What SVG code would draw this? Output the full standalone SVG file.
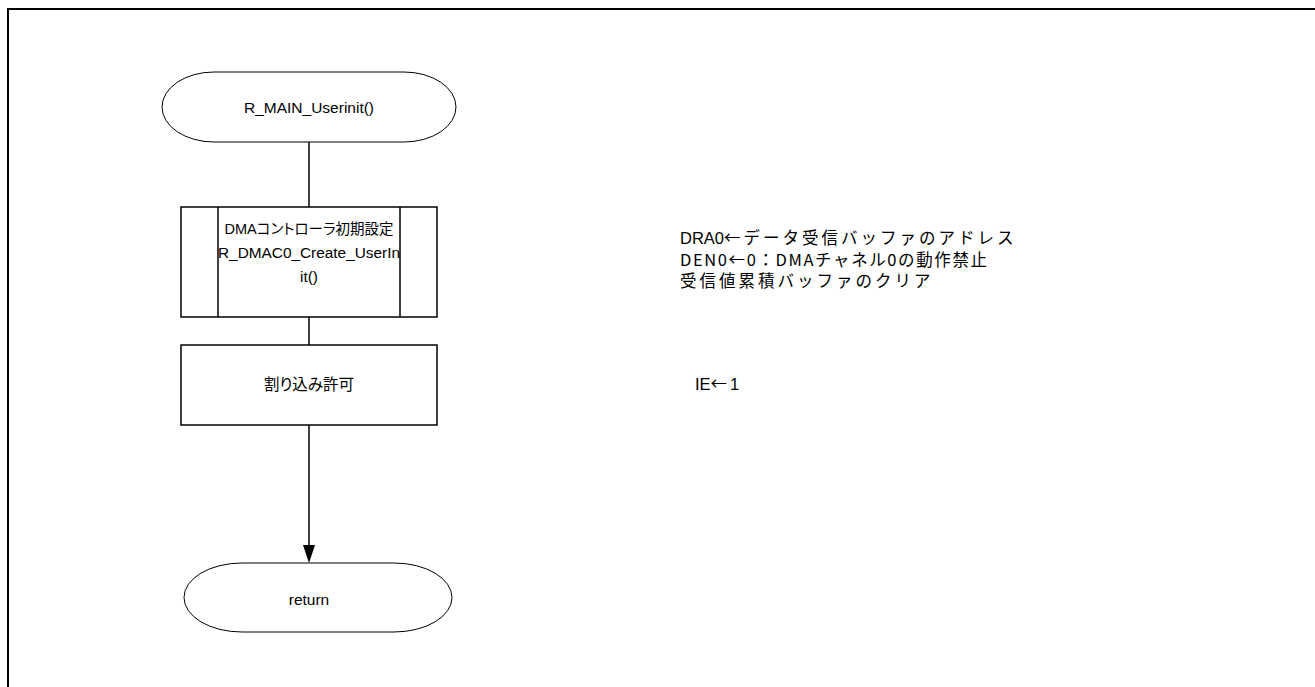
<svg xmlns="http://www.w3.org/2000/svg" width="1315" height="687" viewBox="0 0 1315 687">
  <defs>
    <style>
      .frame { fill: none; stroke: #000; stroke-width: 2; }
      .shape { fill: #fff; stroke: #000; stroke-width: 1.5; }
      .term { fill: #fff; stroke: #000; stroke-width: 1; }
      .line { fill: none; stroke: #000; stroke-width: 1.5; }
      .t { font-family: "Liberation Sans", "Noto Sans CJK JP", sans-serif; font-size: 15.5px; fill: #000; text-anchor: middle; }
      .jp { font-size: 15.5px; font-feature-settings: "palt"; }
      .jps { font-size: 14.5px; font-feature-settings: "palt"; }
      .note { font-family: "Liberation Sans", "Noto Sans CJK JP", sans-serif; font-size: 16.5px; fill: #000; }
      .sp { font-family: "Noto Sans CJK JP", sans-serif; letter-spacing: 3px; }
      .wide { font-family: "Noto Sans CJK JP", sans-serif; letter-spacing: 1.6px; }
    </style>
  </defs>
  <rect width="1315" height="687" fill="#fff"/>
  <!-- page frame (open on the right and bottom) -->
  <path class="frame" d="M8,687 V9 H1315"/>

  <g id="connectors">
    <line class="line" x1="309" y1="142" x2="309" y2="207"/>
    <line class="line" x1="309" y1="317" x2="309" y2="345"/>
    <path class="line" d="M309,425 V546"/>
    <path d="M303,545 L315,545 L309,563 Z" fill="#000"/>
  </g>

  <g id="start">
    <path class="term" d="M214,72 H404 A52,35 0 0 1 404,142 H214 A52,35 0 0 1 214,72 Z"/>
    <text class="t" x="309" y="113">R_MAIN_Userinit()</text>
  </g>

  <g id="dmac-init">
    <rect class="shape" x="181" y="207" width="256" height="110"/>
    <line class="line" x1="218" y1="207" x2="218" y2="317"/>
    <line class="line" x1="400" y1="207" x2="400" y2="317"/>
    <text class="t jps" x="309" y="234">DMAコントローラ初期設定</text>
    <text class="t" x="309" y="258" textLength="182" lengthAdjust="spacingAndGlyphs">R_DMAC0_Create_UserIn</text>
    <text class="t" x="309" y="282">it()</text>
  </g>

  <g id="enable-int">
    <rect class="shape" x="181" y="345" width="256" height="80"/>
    <text class="t jp" x="309" y="390">割り込み許可</text>
  </g>

  <g id="end">
    <path class="term" d="M242,563 H394 A58,34.5 0 0 1 394,632 H242 A58,34.5 0 0 1 242,563 Z"/>
    <text class="t" x="309" y="605">return</text>
  </g>

  <g id="notes">
    <text class="note" x="680" y="244">DRA0<tspan class="sp">←データ受信バッファのアドレス</tspan></text>
    <text class="note wide" x="680" y="266">DEN0←0：DMAチャネル0の動作禁止</text>
    <text class="note" x="680" y="287"><tspan class="sp">受信値累積バッファのクリア</tspan></text>
    <text class="note" x="695" y="390">IE<tspan class="sp">←</tspan>1</text>
  </g>
</svg>
